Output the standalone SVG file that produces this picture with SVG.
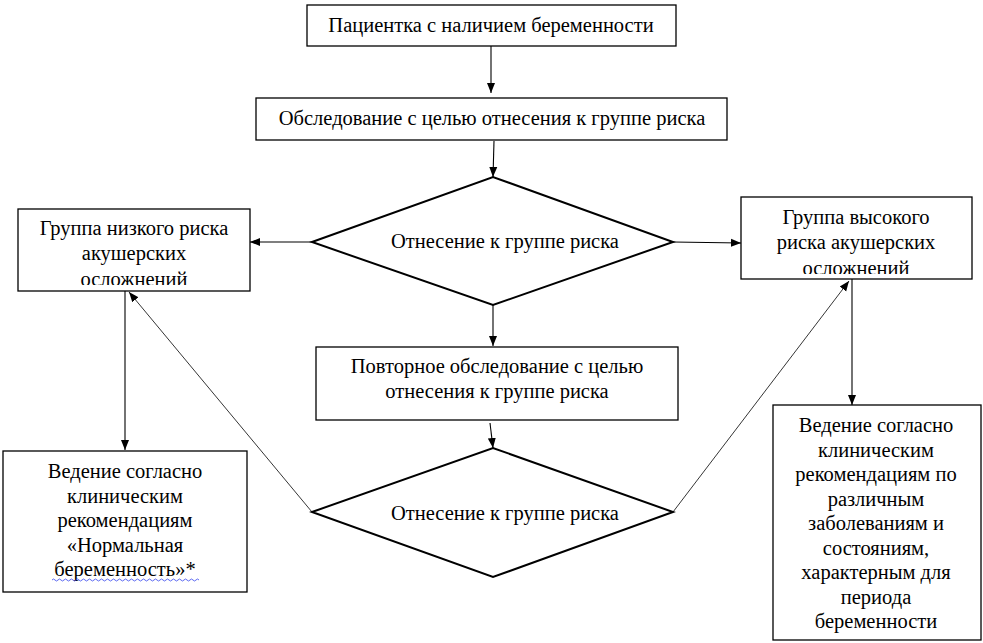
<svg xmlns="http://www.w3.org/2000/svg" width="983" height="643" viewBox="0 0 983 643">
<style>
.box{fill:#fff;stroke:#000;stroke-width:1.3}
.dia{fill:#fff;stroke:#000;stroke-width:2}
.c{fill:none;stroke:#000;stroke-width:1.1}
.thin{fill:none;stroke:#000;stroke-width:0.8}
</style>
<defs>
<marker id="ah" viewBox="0 0 10 10" refX="10" refY="5" markerWidth="10" markerHeight="10" markerUnits="userSpaceOnUse" orient="auto">
<path d="M0,1 L10,5 L0,9 Z" fill="#000"/>
</marker>
<clipPath id="cl3"><rect x="18" y="209" width="232" height="76"/></clipPath>
<clipPath id="cl4"><rect x="741" y="197" width="231" height="77"/></clipPath>
</defs>
<rect width="983" height="643" fill="#fff"/>
<g id="n1"><rect class="box" x="307" y="5" width="369" height="41"/>
<text font-family="Liberation Serif" font-size="20.5" text-anchor="middle" x="491" y="32">Пациентка с наличием беременности</text></g>
<g id="n2"><rect class="box" x="256" y="98" width="471" height="42"/>
<text font-family="Liberation Serif" font-size="20.5" text-anchor="middle" x="492" y="125">Обследование с целью отнесения к группе риска</text></g>
<g id="n3"><polygon class="dia" points="312,242 493,177 673,242 493,305"/>
<text font-family="Liberation Serif" font-size="20.5" text-anchor="middle" x="505" y="248">Отнесение к группе риска</text></g>
<g id="n4"><rect class="box" x="18" y="209" width="232" height="82"/>
<g clip-path="url(#cl3)">
<text font-family="Liberation Serif" font-size="20.5" text-anchor="middle" x="134" y="235">Группа низкого риска</text>
<text font-family="Liberation Serif" font-size="20.5" text-anchor="middle" x="134" y="260">акушерских</text>
<text font-family="Liberation Serif" font-size="20.5" text-anchor="middle" x="134" y="286">осложнений</text></g></g>
<g id="n5"><rect class="box" x="741" y="197" width="231" height="82"/>
<g clip-path="url(#cl4)">
<text font-family="Liberation Serif" font-size="20.5" text-anchor="middle" x="856" y="224">Группа высокого</text>
<text font-family="Liberation Serif" font-size="20.5" text-anchor="middle" x="856" y="249">риска акушерских</text>
<text font-family="Liberation Serif" font-size="20.5" text-anchor="middle" x="856" y="275">осложнений</text></g></g>
<g id="n6"><rect class="box" x="316" y="347" width="362" height="73"/>
<text font-family="Liberation Serif" font-size="20.5" text-anchor="middle" x="497" y="373">Повторное обследование с целью</text>
<text font-family="Liberation Serif" font-size="20.5" text-anchor="middle" x="497" y="398">отнесения к группе риска</text></g>
<g id="n7"><polygon class="dia" points="312,512 493,448 673,512 493,577"/>
<text font-family="Liberation Serif" font-size="20.5" text-anchor="middle" x="505" y="520">Отнесение к группе риска</text></g>
<g id="n8"><rect class="box" x="3" y="451" width="244" height="141"/>
<text font-family="Liberation Serif" font-size="20.5" text-anchor="middle" x="125" y="478">Ведение согласно</text>
<text font-family="Liberation Serif" font-size="20.5" text-anchor="middle" x="125" y="502.5">клиническим</text>
<text font-family="Liberation Serif" font-size="20.5" text-anchor="middle" x="125" y="527">рекомендациям</text>
<text font-family="Liberation Serif" font-size="20.5" text-anchor="middle" x="125" y="551.5">«Нормальная</text>
<text font-family="Liberation Serif" font-size="20.5" text-anchor="middle" x="125" y="576">беременность»*</text>
<path d="M52,580 q1.5,-2 3,0 t3,0 t3,0 t3,0 t3,0 t3,0 t3,0 t3,0 t3,0 t3,0 t3,0 t3,0 t3,0 t3,0 t3,0 t3,0 t3,0 t3,0 t3,0 t3,0 t3,0 t3,0 t3,0 t3,0 t3,0 t3,0 t3,0 t3,0 t3,0 t3,0 t3,0 t3,0 t3,0 t3,0 t3,0 t3,0 t3,0 t3,0 t3,0 t3,0 t3,0 t3,0 t3,0 t3,0 t3,0 t3,0 t3,0 t3,0 t3,0" fill="none" stroke="#3344ee" stroke-width="0.8"/></g>
<g id="n9"><rect class="box" x="773" y="405" width="208" height="235"/>
<text font-family="Liberation Serif" font-size="20.5" text-anchor="middle" x="876" y="432">Ведение согласно</text>
<text font-family="Liberation Serif" font-size="20.5" text-anchor="middle" x="876" y="456.5">клиническим</text>
<text font-family="Liberation Serif" font-size="20.5" text-anchor="middle" x="876" y="481">рекомендациям по</text>
<text font-family="Liberation Serif" font-size="20.5" text-anchor="middle" x="876" y="505.5">различным</text>
<text font-family="Liberation Serif" font-size="20.5" text-anchor="middle" x="876" y="530">заболеваниям и</text>
<text font-family="Liberation Serif" font-size="20.5" text-anchor="middle" x="876" y="554.5">состояниям,</text>
<text font-family="Liberation Serif" font-size="20.5" text-anchor="middle" x="876" y="579">характерным для</text>
<text font-family="Liberation Serif" font-size="20.5" text-anchor="middle" x="876" y="603.5">периода</text>
<text font-family="Liberation Serif" font-size="20.5" text-anchor="middle" x="876" y="628">беременности</text></g>
<g id="connectors">
<path class="c" d="M491,46 L491,93" marker-end="url(#ah)"/>
<path class="c" d="M494,141 L493,177" marker-end="url(#ah)"/>
<path class="c" d="M312,242 L250,242" marker-end="url(#ah)"/>
<path class="c" d="M673,242 L741,243" marker-end="url(#ah)"/>
<path class="c" d="M493,305 L493,346" marker-end="url(#ah)"/>
<path class="c" d="M490,423 L493,448" marker-end="url(#ah)"/>
<path class="thin" d="M312,512 L129,292" marker-end="url(#ah)"/>
<path class="thin" d="M673,512 L849,281" marker-end="url(#ah)"/>
<path class="c" d="M125,291 L125,450" marker-end="url(#ah)"/>
<path class="c" d="M852,279 L852,405" marker-end="url(#ah)"/>
</g>
</svg>
